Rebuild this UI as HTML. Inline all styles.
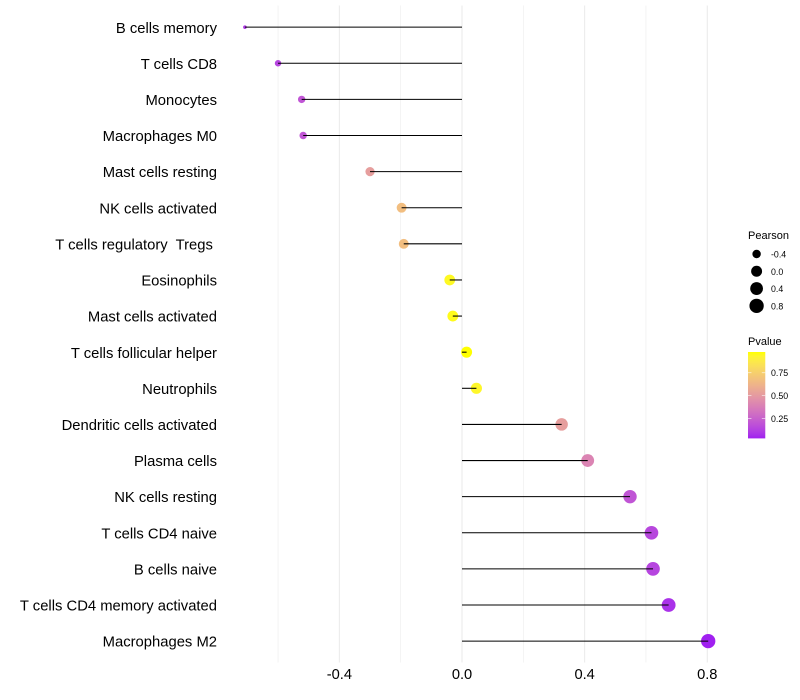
<!DOCTYPE html>
<html>
<head>
<meta charset="utf-8">
<style>
html,body{margin:0;padding:0;background:#fff;width:800px;height:700px;overflow:hidden}
svg{display:block}
text{font-family:"Liberation Sans",sans-serif}
</style>
</head>
<body>
<svg id="chart" width="800" height="700" viewBox="0 0 800 700" xmlns="http://www.w3.org/2000/svg">
<defs><linearGradient id="pgrad" x1="0" y1="1" x2="0" y2="0"></linearGradient></defs>
</svg>
<script>
const categories = ["B cells memory","T cells CD8","Monocytes","Macrophages M0","Mast cells resting","NK cells activated","T cells regulatory  Tregs ","Eosinophils","Mast cells activated","T cells follicular helper","Neutrophils","Dendritic cells activated","Plasma cells","NK cells resting","T cells CD4 naive","B cells naive","T cells CD4 memory activated","Macrophages M2"];
const pearson = [-0.708,-0.6,-0.523,-0.518,-0.30,-0.197,-0.19,-0.04,-0.03,0.015,0.047,0.325,0.41,0.548,0.618,0.623,0.674,0.803];
const pvalues = [0.10,0.14,0.20,0.20,0.52,0.67,0.67,0.95,0.96,0.977,0.94,0.52,0.40,0.20,0.15,0.14,0.08,0.034];
const xTicks = [-0.4,0.0,0.4,0.8];
const xMinorTicks = [-0.6,-0.2,0.2,0.6];
const sizeLegendValues = [-0.4,0.0,0.4,0.8];
const colorLegendValues = [0.25,0.50,0.75];

const svg = document.getElementById('chart');
const NS = 'http://www.w3.org/2000/svg';
const panelTop = 5.5, panelBottom = 662.5, firstRow = 27.15, rowStep = 36.115;
const xScale = v => 462 + v * 306.6;
const yScale = i => firstRow + i * rowStep;

const minR = Math.min(...pearson), maxR = Math.max(...pearson);
function radius(v){
  const t = Math.max(0, (v - minR) / (maxR - minR));
  const size = 1 + 5 * Math.sqrt(t);
  return 0.375 * (size * 2.845 + 0.94) + 0.4;
}

const minP = Math.min(...pvalues), maxP = Math.max(...pvalues);
function toLab(rgb){
  const l = rgb.map(c => { c /= 255; return c > 0.04045 ? Math.pow((c + 0.055) / 1.055, 2.4) : c / 12.92; });
  const X = (0.4124*l[0]+0.3576*l[1]+0.1805*l[2])/0.95047;
  const Y = 0.2126*l[0]+0.7152*l[1]+0.0722*l[2];
  const Z = (0.0193*l[0]+0.1192*l[1]+0.9505*l[2])/1.08883;
  const f = t => t > 0.008856 ? Math.cbrt(t) : 7.787*t + 16/116;
  return [116*f(Y)-16, 500*(f(X)-f(Y)), 200*(f(Y)-f(Z))];
}
function fromLab(lab){
  const fy = (lab[0]+16)/116, fx = lab[1]/500+fy, fz = fy-lab[2]/200;
  const g = t => t*t*t > 0.008856 ? t*t*t : (t-16/116)/7.787;
  const X = g(fx)*0.95047, Y = g(fy), Z = g(fz)*1.08883;
  const lin = [3.2406*X-1.5372*Y-0.4986*Z, -0.9689*X+1.8758*Y+0.0415*Z, 0.0557*X-0.2040*Y+1.0570*Z];
  const c = lin.map(v => { v = Math.max(0, Math.min(1, v)); return Math.round(255*(v > 0.0031308 ? 1.055*Math.pow(v,1/2.4)-0.055 : 12.92*v)); });
  return 'rgb(' + c.join(',') + ')';
}
const labLow = toLab([160,32,240]), labHigh = toLab([255,255,0]);
function colorAt(t){
  return fromLab(labLow.map((v,i) => v + (labHigh[i]-v)*t));
}
const colorScale = p => colorAt(Math.max(0, Math.min(1, (p - minP) / (maxP - minP))));

function el(tag, attrs, parent){
  const e = document.createElementNS(NS, tag);
  for (const k in attrs) e.setAttribute(k, attrs[k]);
  (parent || svg).appendChild(e);
  return e;
}

const bg = el('rect', {x:0, y:0, width:800, height:700, fill:'#ffffff'});



xMinorTicks.forEach(v => {
  const g = el('line', {x1:xScale(v), x2:xScale(v), y1:panelTop, y2:panelBottom, stroke:'#ebebeb', 'stroke-width':0.55});
  
  
});
xTicks.forEach(v => {
  const g = el('line', {x1:xScale(v), x2:xScale(v), y1:panelTop, y2:panelBottom, stroke:'#ebebeb', 'stroke-width':1.07});
  
  
  const t = el('text', {x:xScale(v), y:679, 'text-anchor':'middle', 'font-size':14.67, fill:'#000'});
  t.textContent = v.toFixed(1);
  
  
});

categories.forEach((c, i) => {
  const t = el('text', {x:217, y:yScale(i) + 5.6, 'text-anchor':'end', 'font-size':14.8, fill:'#000'});
  t.setAttribute('xml:space', 'preserve');
  t.style.whiteSpace = 'pre';
  t.textContent = c;
  
  
});

pearson.forEach((v, i) => {
  const d = el('circle', {cx:xScale(v), cy:yScale(i), r:radius(v), fill:colorScale(pvalues[i])});
  
  
});
pearson.forEach((v, i) => {
  const s = el('line', {x1:xScale(0), x2:xScale(v), y1:yScale(i), y2:yScale(i), stroke:'#000', 'stroke-width':1.07});
  
  
});

const pearsonTitle = el('text', {x:748, y:239, 'font-size':11, fill:'#000'});
pearsonTitle.textContent = 'Pearson';



sizeLegendValues.forEach((v, i) => {
  const y = 254 + i * 17.28;
  const d = el('circle', {cx:756.6, cy:y, r:radius(v), fill:'#000'});
  
  
  const t = el('text', {x:771, y:y + 3.6, 'font-size':8.8, fill:'#000'});
  t.textContent = v.toFixed(1);
  
  
});

const pvalueTitle = el('text', {x:748, y:345, 'font-size':11, fill:'#000'});
pvalueTitle.textContent = 'Pvalue';



const grad = document.getElementById('pgrad');
for (let k = 0; k <= 20; k++) {
  el('stop', {offset:(k/20), 'stop-color':colorAt(k/20)}, grad);
}
const barTop = 352, barBottom = 438.4, barX = 748, barW = 17.28;
const bar = el('rect', {x:barX, y:barTop, width:barW, height:barBottom-barTop, fill:'url(#pgrad)'});


colorLegendValues.forEach(v => {
  const y = barBottom - (v - minP) / (maxP - minP) * (barBottom - barTop);
  const a = el('line', {x1:barX, x2:barX+3.46, y1:y, y2:y, stroke:'#fff', 'stroke-width':0.55});
  
  
  const b = el('line', {x1:barX+barW-3.46, x2:barX+barW, y1:y, y2:y, stroke:'#fff', 'stroke-width':0.55});
  
  
  const t = el('text', {x:771, y:y + 3.4, 'font-size':8.8, fill:'#000'});
  t.textContent = v.toFixed(2);
  
  
});
</script>
</body>
</html>
